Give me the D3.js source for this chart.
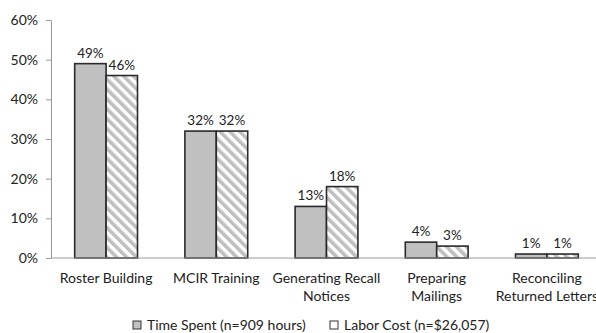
<!DOCTYPE html>
<html>
<head>
<meta charset="utf-8">
<script src="https://cdn.jsdelivr.net/npm/d3@7/dist/d3.min.js"></script>
<style>
  html, body { margin: 0; padding: 0; background: #fff; }
  svg { display: block; }
  text { font-family: Lato, "Open Sans", sans-serif; fill: #222; }
</style>
</head>
<body>
<svg id="chart" width="596" height="333"></svg>
<script>
// Task categories (line breaks mark label wrapping)
const categories = [
  "Roster Building",
  "MCIR Training",
  "Generating Recall\nNotices",
  "Preparing\nMailings",
  "Reconciling\nReturned Letters"
];
const seriesNames = ["Time Spent (n=909 hours)", "Labor Cost (n=$26,057)"];
const timeSpent = [49, 32, 13, 4, 1];
const laborCost = [46, 32, 18, 3, 1];
const yTicks = [0, 10, 20, 30, 40, 50, 60];

const svg = d3.select("#chart");
const defs = svg.append("defs");

// Diagonal gray stripes (top-left to bottom-right) for the labor-cost bars
const pat = defs.append("pattern")
  .attr("id", "hatch")
  .attr("patternUnits", "userSpaceOnUse")
  .attr("width", 7).attr("height", 7)
  .attr("patternTransform", "rotate(-45)");
pat.append("rect").attr("width", 7).attr("height", 7).attr("fill", "#fff");
pat.append("rect").attr("x", 0).attr("width", 3.6).attr("height", 7).attr("fill", "#bfbfbf");

const plot = { left: 51, right: 602, top: 20, bottom: 258 };

const y = d3.scaleLinear().domain([0, 60]).range([plot.bottom, plot.top]);
const x0 = d3.scaleBand().domain(categories).range([plot.left, plot.right])
  .paddingInner(0.43).paddingOuter(0.215);
const x1 = d3.scaleBand().domain([0, 1]).range([0, x0.bandwidth()]);

// Y axis
const yAxis = d3.axisLeft(y).tickValues(yTicks).tickFormat(d => d + "%").tickSize(5).tickSizeOuter(0);
const gy = svg.append("g").attr("transform", `translate(${plot.left},0)`).call(yAxis);
gy.select(".domain").attr("stroke", "#9a9a9a");
gy.selectAll(".tick line").attr("stroke", "#9a9a9a");
gy.selectAll(".tick text").attr("x", -13).style("font-size", "14px").style("font-family", "Lato, sans-serif").attr("fill", "#222");

// Bars
const data = categories.map((c, i) => ({ cat: c, vals: [timeSpent[i], laborCost[i]] }));
const groups = svg.append("g").selectAll("g").data(data).join("g")
  .attr("transform", d => `translate(${x0(d.cat)},0)`);

groups.selectAll("rect").data(d => d.vals.map((v, k) => ({ v, k }))).join("rect")
  .attr("x", d => x1(d.k))
  .attr("y", d => y(d.v))
  .attr("width", x1.bandwidth())
  .attr("height", d => y(0) - y(d.v))
  .attr("fill", d => d.k === 0 ? "#c0c0c0" : "url(#hatch)")
  .attr("stroke", "#2a2a2a")
  .attr("stroke-width", 1.6);

groups.selectAll("text.val").data(d => d.vals.map((v, k) => ({ v, k }))).join("text")
  .attr("class", "val")
  .attr("x", d => x1(d.k) + x1.bandwidth() / 2)
  .attr("y", d => y(d.v) - 6)
  .attr("text-anchor", "middle")
  .style("font-size", "13.5px")
  .text(d => d.v + "%");

// X axis baseline
svg.append("line")
  .attr("x1", plot.left).attr("x2", 596)
  .attr("y1", y(0)).attr("y2", y(0))
  .attr("stroke", "#9a9a9a").attr("stroke-width", 1);

// Category labels
const catLabels = svg.append("g").selectAll("text").data(categories).join("text")
  .attr("x", d => x0(d) + x0.bandwidth() / 2)
  .attr("y", 283)
  .attr("text-anchor", "middle")
  .style("font-size", "14px");
catLabels.selectAll("tspan").data(d => d.split("\n")).join("tspan")
  .attr("x", function () { return d3.select(this.parentNode).attr("x"); })
  .attr("dy", (d, i) => i === 0 ? 0 : 18)
  .text(d => d);

// Legend
const legendX = [133, 330];
const legend = svg.append("g").selectAll("g").data(seriesNames).join("g")
  .attr("transform", (d, i) => `translate(${legendX[i]},321)`);
legend.append("rect")
  .attr("width", 8).attr("height", 8)
  .attr("fill", (d, i) => i === 0 ? "#c0c0c0" : "#fff")
  .attr("stroke", "#333").attr("stroke-width", 1);
legend.append("text")
  .attr("x", 14).attr("y", 9)
  .style("font-size", "14px")
  .text(d => d);
</script>
</body>
</html>
